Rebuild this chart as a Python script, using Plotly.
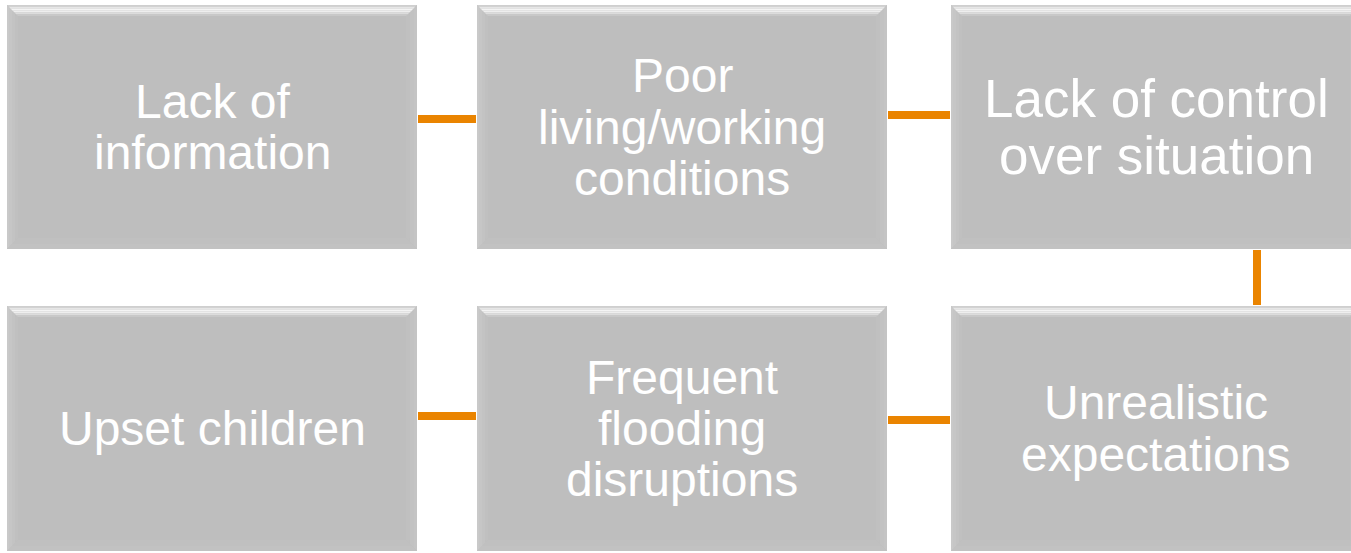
import plotly.graph_objects as go

# ---- data ----
labels = [
    ["Lack of", "information"],
    ["Poor", "living/working", "conditions"],
    ["Lack of control", "over situation"],
    ["Unrealistic", "expectations"],
    ["Frequent", "flooding", "disruptions"],
    ["Upset children"],
]
# grid cell (row, col) for each box, in flow order
cells = [(0, 0), (0, 1), (0, 2), (1, 2), (1, 1), (1, 0)]
font_sizes = [48, 48, 53, 48, 48, 48]

# ---- layout geometry ----
W, H = 1351, 553
col_x = [(7, 417), (477, 887), (951, 1361)]
row_y = [(5, 249), (306, 551)]
BOX = "#BEBEBE"
ORANGE = "#EA8400"

fig = go.Figure()
shapes = []
annotations = []

def rect(x0, y0, x1, y1, color):
    return dict(type="rect", x0=x0, y0=y0, x1=x1, y1=y1, xref="x", yref="y",
                fillcolor=color, line=dict(width=0), layer="below")

def path(pts, color):
    d = "M " + " L ".join(f"{x},{y}" for x, y in pts) + " Z"
    return dict(type="path", path=d, xref="x", yref="y", fillcolor=color,
                line=dict(width=0), layer="below")

for lab, (r, c), fs in zip(labels, cells, font_sizes):
    x0, x1 = col_x[c]
    y0, y1 = row_y[r]
    shapes.append(rect(x0, y0, x1, y1, BOX))
    b = 11
    for i, col in enumerate(["#C9C9C9", "#C6C6C6", "#C3C3C3", "#C0C0C0"]):
        t0 = i * b / 4
        t1 = (i + 1) * b / 4
        shapes.append(path([(x0 + t0, y0 + t0), (x0 + t1, y0 + t1), (x0 + t1, y1 - t1), (x0 + t0, y1 - t0)], col))
    for i, col in enumerate(["#C4C4C4", "#C2C2C2", "#C0C0C0"]):
        t0 = i * b / 3
        t1 = (i + 1) * b / 3
        shapes.append(path([(x1 - t0, y0 + t0), (x1 - t1, y0 + t1), (x1 - t1, y1 - t1), (x1 - t0, y1 - t0)], col))
    for i, col in enumerate(["#CFCFCF", "#E6E6E6", "#F4F4F4", "#EEEEEE", "#DCDCDC", "#C8C8C8"]):
        t0 = i * b / 6
        t1 = (i + 1) * b / 6
        shapes.append(path([(x0 + t0, y0 + t0), (x1 - t0, y0 + t0), (x1 - t1, y0 + t1), (x0 + t1, y0 + t1)], col))
    for i, col in enumerate(["#C2C2C2", "#C0C0C0"]):
        t0 = i * b / 2
        t1 = (i + 1) * b / 2
        shapes.append(path([(x0 + t0, y1 - t0), (x1 - t0, y1 - t0), (x1 - t1, y1 - t1), (x0 + t1, y1 - t1)], col))

    cx = (x0 + x1) / 2 if c < 2 else (x0 + W) / 2 + 5
    cy = (y0 + y1) / 2
    n = len(lab)
    line_h = fs * 1.07
    for k, line in enumerate(lab):
        annotations.append(dict(
            x=cx, y=cy + (k - (n - 1) / 2) * line_h, xref="x", yref="y",
            text=line, showarrow=False, xanchor="center", yanchor="middle",
            font=dict(family="Liberation Sans, Arial, sans-serif", size=fs, color="white"),
        ))

connectors = [
    (418, 119, 476, 119),
    (888, 115, 950, 115),
    (1257, 250, 1257, 305),
    (888, 420, 950, 420),
    (418, 416, 476, 416),
]
for x0, y0, x1, y1 in connectors:
    shapes.append(dict(type="line", x0=x0, y0=y0, x1=x1, y1=y1, xref="x", yref="y",
                       line=dict(color=ORANGE, width=8), layer="above"))

fig.update_layout(
    width=W, height=H,
    margin=dict(l=0, r=0, t=0, b=0),
    paper_bgcolor="white", plot_bgcolor="white",
    xaxis=dict(range=[0, W], visible=False, fixedrange=True),
    yaxis=dict(range=[H, 0], visible=False, fixedrange=True),
    shapes=shapes, annotations=annotations, showlegend=False,
)
fig.write_html("out.html", config={"displayModeBar": False},
               post_script="document.body.style.margin='0';document.body.style.overflow='hidden';")
